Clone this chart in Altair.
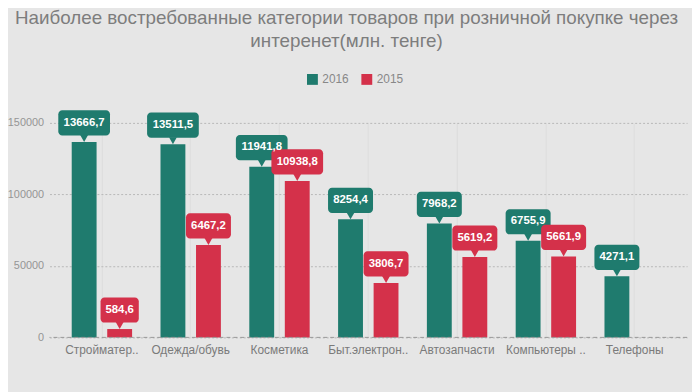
import altair as alt
import pandas as pd

categories = ["Стройматер..", "Одежда/обувь", "Косметика", "Быт.электрон..",
              "Автозапчасти", "Компьютеры ..", "Телефоны"]
years = ["2016", "2015"]
values_2016 = [136667, 135115, 119418, 82544, 79682, 67559, 42711]
values_2015 = [5846, 64672, 109388, 38067, 56192, 56619, None]
labels_2016 = ["13666,7", "13511,5", "11941,8", "8254,4", "7968,2", "6755,9", "4271,1"]
labels_2015 = ["584,6", "6467,2", "10938,8", "3806,7", "5619,2", "5661,9", None]
colors = ["#1f7b6e", "#d4314a"]

rows = []
for i, c in enumerate(categories):
    for yr, vals, labs in (("2016", values_2016, labels_2016), ("2015", values_2015, labels_2015)):
        if vals[i] is not None:
            rows.append({"cat": c, "year": yr, "value": vals[i], "label": labs[i]})
df = pd.DataFrame(rows)

x_enc = alt.X("cat:N", sort=categories, title=None,
              scale=alt.Scale(paddingInner=0.32, paddingOuter=0.25),
              axis=alt.Axis(labelAngle=0, labelFontSize=12, labelColor="#7a7a7a",
                            ticks=False, domain=False, labelPadding=7,
                            labelFont="Liberation Sans"))
xoff = alt.XOffset("year:N", sort=years, scale=alt.Scale(paddingInner=0.3, paddingOuter=0))
y_enc = alt.Y("value:Q", title=None,
              scale=alt.Scale(domain=[0, 150000], nice=False),
              axis=alt.Axis(values=[0, 50000, 100000, 150000], format="d",
                            labelFontSize=11, labelColor="#959595", ticks=False,
                            domain=False, labelPadding=6, gridColor="#b8b8b8",
                            gridDash=[2, 2], gridWidth=1, labelFont="Liberation Sans"))
color_enc = alt.Color("year:N", sort=years,
                      scale=alt.Scale(domain=years, range=colors),
                      legend=alt.Legend(title=None, orient="none", direction="horizontal",
                                        legendX=260, legendY=-50, symbolType="square",
                                        symbolSize=121, symbolStrokeWidth=0,
                                        labelFontSize=12, labelColor="#888888",
                                        labelFont="Liberation Sans", columnPadding=12,
                                        labelOffset=4))

base = alt.Chart(df)

bars = base.mark_bar().encode(x=x_enc, xOffset=xoff, y=y_enc, color=color_enc)

zero = alt.Chart(pd.DataFrame({"z": [0]})).mark_rule(
    color="#9a9a9a", strokeDash=[4, 3], strokeWidth=1
).encode(y=alt.Y("z:Q", scale=alt.Scale(domain=[0, 150000], nice=False)))

boxes = base.transform_calculate(
    w="6.8*(length(datum.label)-1)+11.5"
).mark_bar(cornerRadius=4, yOffset=-32, y2Offset=-6.5).encode(
    x=alt.X("cat:N", sort=categories),
    xOffset=alt.XOffset("year:N", sort=years),
    y=alt.Y("value:Q"),
    y2=alt.Y2("value:Q"),
    size=alt.Size("w:Q", scale=None),
    color=alt.Color("year:N", sort=years, legend=None),
)

pointers = base.mark_point(
    shape="M-0.8,-1L0.8,-1L0,0.4Z", filled=True, opacity=1, size=100, yOffset=-2
).encode(
    x=alt.X("cat:N", sort=categories),
    xOffset=alt.XOffset("year:N", sort=years),
    y=alt.Y("value:Q"),
    color=alt.Color("year:N", sort=years, legend=None),
)

texts = base.mark_text(
    color="white", fontSize=11.5, fontWeight="bold", font="Liberation Sans",
    baseline="middle", align="center", yOffset=-19.5
).encode(
    x=alt.X("cat:N", sort=categories),
    xOffset=alt.XOffset("year:N", sort=years),
    y=alt.Y("value:Q"),
    text="label:N",
)

chart = alt.layer(bars, zero, boxes, pointers, texts).properties(
    width=645, height=217,
    autosize=alt.AutoSizeParams(type="none"),
    padding={"left": 42, "top": 114, "right": 5, "bottom": 53},
    background="#e6e6e6",
    title=alt.TitleParams(
        ["Наиболее востребованные категории товаров при розничной покупке через",
         "интеренет(млн. тенге)"],
        fontSize=19, font="Liberation Sans", fontWeight="normal", color="#7d7d7d",
        anchor="middle", frame="group", dx=-22, offset=23, lineHeight=23,
    ),
).configure_view(stroke=None).configure_axis(grid=True)

chart.save("out.html", embed_options={"renderer": "svg", "actions": False})
